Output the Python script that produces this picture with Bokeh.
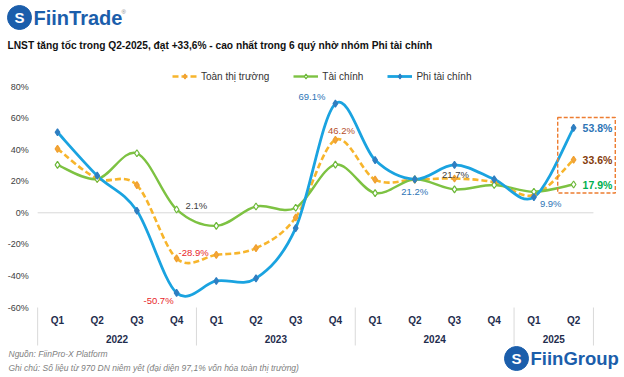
from bokeh.plotting import figure
from bokeh.models import (Label, Legend, LegendItem, Range1d, ColumnDataSource)
from bokeh.embed import file_html
from bokeh.resources import INLINE
from bokeh.core.properties import value

# ---------------- data ----------------
years = ["2022"] * 4 + ["2023"] * 4 + ["2024"] * 4 + ["2025"] * 2
quarters = ["Q1", "Q2", "Q3", "Q4"] * 3 + ["Q1", "Q2"]
toan_thi_truong = [40.5, 21.6, 17.5, -28.9, -26.7, -22.4, -3.0, 46.2, 21.0, 21.0, 21.7, 19.3, 11.2, 33.6]
tai_chinh = [30.3, 21.4, 37.7, 2.1, -8.3, 4.0, 3.2, 30.5, 12.5, 21.2, 14.8, 17.6, 13.3, 17.9]
phi_tai_chinh = [51.0, 23.5, 1.3, -50.7, -43.2, -41.5, -9.7, 69.1, 33.4, 21.2, 30.3, 21.2, 9.9, 53.8]
series_names = ["Toàn thị trường", "Tài chính", "Phi tài chính"]
y_ticks = [-60, -40, -20, 0, 20, 40, 60, 80]

# data labels: (series, index)
ann_series = [1, 0, 2, 2, 0, 2, 0, 2]
ann_index = [3, 3, 3, 7, 7, 9, 10, 12]

title_text = "LNST tăng tốc trong Q2-2025, đạt +33,6% - cao nhất trong 6 quý nhờ nhóm Phi tài chính"
note1 = "Nguồn: FiinPro-X Platform"
note2 = "Ghi chú: Số liệu từ 970 DN niêm yết (đại diện 97,1% vốn hóa toàn thị trường)"

FONT = "Liberation Sans"
AXIS_COLOR = "#1F2D4D"
BRAND = "#1B5EAB"
n = len(quarters)
xs = list(range(n))
all_series = [toan_thi_truong, tai_chinh, phi_tai_chinh]
line_colors = ["#F7B52C", "#7DC242", "#1AA3E0"]
marker_fill = ["#F3A53A", "#FFFFFF", "#2F7EC1"]
marker_line = ["#F0A030", "#6DB83A", "#2F7EC1"]
line_widths = [2.6, 2.4, 2.8]
dashes = ["6 3", "solid", "solid"]

# layout of the single full-canvas frame
W, H = 624, 377
PX_X = 39.7                                   # px per category
PX_Y = 221.0 / (y_ticks[-1] - y_ticks[0])     # px per percentage point
TOP_PAD, BOTTOM_PAD, LEFT_PAD = 86, 70, 57
y_lo = y_ticks[0] - BOTTOM_PAD / PX_Y
y_hi = y_ticks[-1] + TOP_PAD / PX_Y
x_lo = xs[0] - LEFT_PAD / PX_X
x_hi = x_lo + W / PX_X


def sx2d(px):
    return x_lo + px / PX_X


def sy2d(py):
    return y_hi - py / PX_Y


p = figure(width=W, height=H, output_backend="svg", toolbar_location=None,
           x_range=Range1d(x_lo, x_hi), y_range=Range1d(y_lo, y_hi),
           min_border=0, title=None, x_axis_type=None, y_axis_type=None)
p.outline_line_color = None
p.background_fill_color = "white"
p.grid.visible = False

# zero baseline across the categories
p.segment(x0=[xs[0] - 0.5], x1=[xs[-1] + 0.5], y0=[0], y1=[0], line_color="#D9D9D9", line_width=1)

# y tick labels
p.text(x=[xs[0] - 0.5] * len(y_ticks), y=y_ticks, text=[f"{t}%" for t in y_ticks],
       text_align="right", text_baseline="middle", x_offset=-9, text_color="#404040",
       text_font=value(FONT), text_font_size="9px")

# category axis: quarters, years, separators
p.text(x=xs, y=[y_ticks[0]] * n, text=quarters, text_align="center", text_baseline="middle",
       y_offset=13, text_color=AXIS_COLOR, text_font=value(FONT), text_font_size="10px",
       text_font_style="bold")
uniq_years = []
for y in years:
    if y not in uniq_years:
        uniq_years.append(y)
year_centers = [sum(i for i in xs if years[i] == y) / years.count(y) for y in uniq_years]
p.text(x=year_centers, y=[y_ticks[0]] * len(uniq_years), text=uniq_years, text_align="center",
       text_baseline="middle", y_offset=31, text_color=AXIS_COLOR, text_font=value(FONT),
       text_font_size="10px", text_font_style="bold")
boundaries = [xs[0] - 0.5] + [i - 0.5 for i in range(1, n) if years[i] != years[i - 1]] + [xs[-1] + 0.5]
sep_len = 38 / PX_Y
p.segment(x0=boundaries, x1=boundaries, y0=[y_ticks[0]] * len(boundaries),
          y1=[y_ticks[0] - sep_len] * len(boundaries), line_color="#D9D9D9", line_width=1)


def smooth_segments(x, y, t=1.0 / 6.0):
    m = len(x)
    d = dict(x0=[], y0=[], x1=[], y1=[], cx0=[], cy0=[], cx1=[], cy1=[])
    for i in range(m - 1):
        a = i - 1 if i > 0 else i
        b = i + 2 if i + 2 < m else i + 1
        d["x0"].append(x[i]); d["y0"].append(y[i])
        d["x1"].append(x[i + 1]); d["y1"].append(y[i + 1])
        d["cx0"].append(x[i] + (x[i + 1] - x[a]) * t)
        d["cy0"].append(y[i] + (y[i + 1] - y[a]) * t)
        d["cx1"].append(x[i + 1] - (x[b] - x[i]) * t)
        d["cy1"].append(y[i + 1] - (y[b] - y[i]) * t)
    return d


renderers = {}
for k in range(3):
    src = ColumnDataSource(smooth_segments(xs, all_series[k]))
    p.bezier(x0="x0", y0="y0", x1="x1", y1="y1", cx0="cx0", cy0="cy0", cx1="cx1", cy1="cy1",
             source=src, line_color=line_colors[k], line_width=line_widths[k], line_dash=dashes[k])
for k in range(3):
    ys = all_series[k]
    sc = p.scatter(xs, ys, marker="diamond", size=7, fill_color=marker_fill[k],
                   line_color=marker_line[k], line_width=1.2)
    proxy = p.line([xs[0]], [ys[0]], line_color=line_colors[k], line_width=line_widths[k],
                   line_dash=dashes[k])
    renderers[k] = (proxy, sc)

legend_items = [LegendItem(label=series_names[k], renderers=list(renderers[k])) for k in range(3)]
legend = Legend(items=legend_items, orientation="horizontal", location=(172, H - 82),
                border_line_color=None, background_fill_alpha=0, padding=0, margin=0,
                spacing=24, glyph_width=25, glyph_height=12, label_height=12,
                label_standoff=4, label_text_font=FONT, label_text_font_size="10px",
                label_text_color="#333333")
p.add_layout(legend, "center")

# data labels
ann_style = {
    (1, 3): ("left", 9, -4, "#404040"),
    (0, 3): ("left", 2, -6, "#E8262A"),
    (2, 3): ("right", -3, 8, "#E8262A"),
    (2, 7): ("right", -10, -7, "#2E75B6"),
    (0, 7): ("center", 6, -9, "#B5502C"),
    (2, 9): ("center", 0, 12, "#2E75B6"),
    (0, 10): ("center", 1, -4, "#404040"),
    (2, 12): ("left", 6, 6, "#2E75B6"),
}
ad = dict(x=[], y=[], text=[], align=[], dx=[], dy=[], color=[])
for s, i in zip(ann_series, ann_index):
    al, dx, dy, c = ann_style[(s, i)]
    ad["x"].append(xs[i]); ad["y"].append(all_series[s][i])
    ad["text"].append(f"{all_series[s][i]:.1f}%")
    ad["align"].append(al); ad["dx"].append(dx); ad["dy"].append(dy); ad["color"].append(c)
p.text(x="x", y="y", text="text", source=ColumnDataSource(ad), text_align="align",
       x_offset="dx", y_offset="dy", text_color="color", text_baseline="middle",
       text_font=value(FONT), text_font_size="9.5px")

# end labels (bold)
end_colors = ["#843C0C", "#00B050", "#2E75B6"]
ed = dict(x=[xs[-1]] * 3, y=[s[-1] for s in all_series],
          text=[f"{s[-1]:.1f}%" for s in all_series], color=end_colors)
p.text(x="x", y="y", text="text", source=ColumnDataSource(ed), text_align="left",
       x_offset=9, text_baseline="middle", text_color="color", text_font=value(FONT),
       text_font_size="10.5px", text_font_style="bold")

# highlight box around the latest quarter
last_vals = [s[-1] for s in all_series]
p.quad(left=[xs[-1] - 0.4], right=[xs[-1] + 1.05], top=[max(last_vals) + 6.6],
       bottom=[min(last_vals) - 5.4], fill_color=None, line_color="#ED7D31",
       line_dash="4 2", line_width=1.4)

# brand logo discs (page decoration, placed by pixel position)
p.scatter(x=[sx2d(19), sx2d(516)], y=[sy2d(17), sy2d(358)], marker="circle", size=24,
          fill_color=BRAND, line_color=BRAND)


# header / footer texts (screen units, origin at bottom-left of canvas)
def lab(text, x, y, size, color, style="normal", align="left"):
    p.add_layout(Label(x=x, y=H - y, x_units="screen", y_units="screen", text=text,
                       text_font=FONT, text_font_size=size, text_color=color,
                       text_font_style=style, text_align=align, text_baseline="middle"))


lab("S", 19, 17, "15px", "white", "bold", "center")
lab("FiinTrade", 33, 17, "20px", BRAND, "bold")
lab("®", 121, 11, "6px", "#7F7F7F")
lab(title_text, 7, 45, "10.2px", "#111111", "bold")
lab(note1, 8, 353, "8.5px", "#7F7F7F", "italic")
lab(note2, 8, 367, "8.5px", "#7F7F7F", "italic")
lab("S", 516, 358, "15px", "white", "bold", "center")
lab("FiinGroup", 530, 358, "18.5px", BRAND, "bold")

open("out.html", "w").write(file_html(p, INLINE))
